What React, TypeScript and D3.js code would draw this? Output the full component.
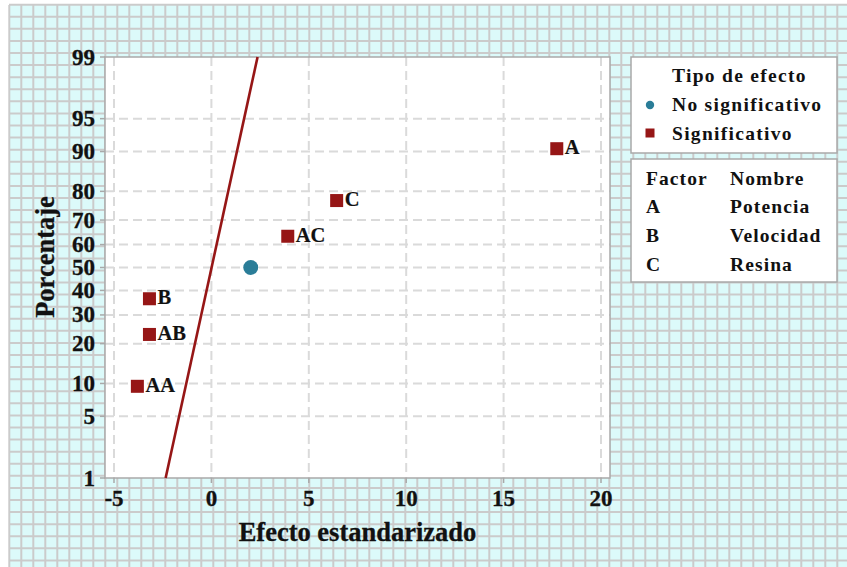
import * as d3 from 'd3';

// Normal probability plot of standardized effects
const termLabels = ['AA', 'AB', 'B', '', 'AC', 'C', 'A'];
const effectValues = [-3.8, -3.18, -3.18, 2.02, 3.92, 6.43, 17.73];
const percentValues = [9.46, 22.97, 36.49, 50, 63.51, 77.03, 90.54];
const isSignificant = [true, true, true, false, true, true, true];

// reference line (percent -> effect)
const linePercents = [1, 99];
const lineEffects = [-2.35, 2.37];

const xTicks = [-5, 0, 5, 10, 15, 20];
const yTicks = [1, 5, 10, 20, 30, 40, 50, 60, 70, 80, 90, 95, 99];

const legendTitle = 'Tipo de efecto';
const legendItems = ['No significativo', 'Significativo'];
const factorHeader = ['Factor', 'Nombre'];
const factorCodes = ['A', 'B', 'C'];
const factorNames = ['Potencia', 'Velocidad', 'Resina'];

const W = 847;
const H = 567;
const PLOT = { left: 105, top: 57, right: 610, bottom: 478 };
const RED = '#961616';
const TEAL = '#2a7d98';
const FONT = '"Liberation Serif", "Times New Roman", serif';

// inverse normal CDF (Acklam)
const probit = (p: number) => {
  const a = [-39.6968302866538, 220.946098424521, -275.928510446969, 138.357751867269, -30.6647980661472, 2.50662827745924];
  const b = [-54.4760987982241, 161.585836858041, -155.698979859887, 66.8013118877197, -13.2806815528857];
  const c = [-0.00778489400243029, -0.322396458041136, -2.40075827716184, -2.54973253934373, 4.37466414146497, 2.93816398269878];
  const d = [0.00778469570904146, 0.32246712907004, 2.445134137143, 3.75440866190742];
  const pl = 0.02425;
  if (p < pl) {
    const q = Math.sqrt(-2 * Math.log(p));
    return (((((c[0] * q + c[1]) * q + c[2]) * q + c[3]) * q + c[4]) * q + c[5]) / ((((d[0] * q + d[1]) * q + d[2]) * q + d[3]) * q + 1);
  }
  if (p > 1 - pl) {
    const q = Math.sqrt(-2 * Math.log(1 - p));
    return -(((((c[0] * q + c[1]) * q + c[2]) * q + c[3]) * q + c[4]) * q + c[5]) / ((((d[0] * q + d[1]) * q + d[2]) * q + d[3]) * q + 1);
  }
  const q = p - 0.5;
  const r = q * q;
  return ((((((a[0] * r + a[1]) * r + a[2]) * r + a[3]) * r + a[4]) * r + a[5]) * q) / (((((b[0] * r + b[1]) * r + b[2]) * r + b[3]) * r + b[4]) * r + 1);
};

const Background = () => {
  // cyan background grid
  const xs = d3.range(9.3, W, 12);
  const ys = d3.range(4.7, H, 12.08);
  return (
    <g>
      <rect x={9} y={5} width={W - 9} height={H - 5} fill="#dcfafa" />
      {xs.map((x, i) => (
        <line key={'vx' + i} x1={x} x2={x} y1={5} y2={H} stroke="#cbcbcb" strokeWidth={2} />
      ))}
      {ys.map((y, i) => (
        <line key={'hy' + i} x1={9} x2={W} y1={y} y2={y} stroke="#cbcbcb" strokeWidth={2} />
      ))}
    </g>
  );
};

export default function App() {
  const xScale = d3.scaleLinear().domain([-5.462, 20.462]).range([PLOT.left, PLOT.right]);
  const zScale = d3
    .scaleLinear()
    .domain([probit(0.01), probit(0.99)])
    .range([PLOT.bottom, PLOT.top]);
  const yScale = (pct: number) => zScale(probit(pct / 100));

  const line = d3
    .line<number>()
    .x((_, i) => xScale(lineEffects[i]))
    .y((p) => yScale(p));

  const plotW = PLOT.right - PLOT.left;
  const plotH = PLOT.bottom - PLOT.top;

  return (
    <svg width={W} height={H} style={{ position: 'absolute', left: 0, top: 0 }} fontFamily={FONT} fontWeight="bold">
      <rect width={W} height={H} fill="#fff" />
      <Background />

      {/* plot area */}
      <rect x={PLOT.left} y={PLOT.top} width={plotW} height={plotH} fill="#fff" />
      <g stroke="#dadada" strokeWidth={2} strokeDasharray="9,5">
        {xTicks.map((t) => (
          <line key={'gx' + t} x1={xScale(t)} x2={xScale(t)} y1={PLOT.top} y2={PLOT.bottom} />
        ))}
        {yTicks.slice(1, -1).map((t) => (
          <line key={'gy' + t} x1={PLOT.left} x2={PLOT.right} y1={yScale(t)} y2={yScale(t)} />
        ))}
      </g>
      <rect x={PLOT.left} y={PLOT.top} width={plotW} height={plotH} fill="none" stroke="#a9a9a9" strokeWidth={1.5} />

      {/* ticks */}
      <g stroke="#a9a9a9" strokeWidth={1.5}>
        {yTicks.map((t) => (
          <line key={'ty' + t} x1={PLOT.left - 5} x2={PLOT.left} y1={yScale(t)} y2={yScale(t)} />
        ))}
        {xTicks.map((t) => (
          <line key={'tx' + t} x1={xScale(t)} x2={xScale(t)} y1={PLOT.bottom} y2={PLOT.bottom + 5} />
        ))}
      </g>
      <g fontSize={23} fill="#111" stroke="#111" strokeWidth={0.3}>
        {yTicks.map((t) => (
          <text key={'ly' + t} x={95} y={yScale(t) + 7.5} textAnchor="end">
            {t}
          </text>
        ))}
        {xTicks.map((t) => (
          <text key={'lx' + t} x={xScale(t)} y={506} textAnchor="middle">
            {t}
          </text>
        ))}
      </g>

      {/* reference line */}
      <path d={line(linePercents) ?? ''} fill="none" stroke={RED} strokeWidth={2.6} />

      {/* points */}
      {effectValues.map((v, i) => {
        const cx = xScale(v);
        const cy = yScale(percentValues[i]);
        return (
          <g key={'pt' + i}>
            {isSignificant[i] ? (
              <rect x={cx - 6.5} y={cy - 6.5} width={13} height={13} fill={RED} />
            ) : (
              <circle cx={cx} cy={cy} r={7.5} fill={TEAL} />
            )}
            {termLabels[i] && (
              <text x={cx + 8} y={cy + 5.5} fontSize={20.5} fill="#111" stroke="#111" strokeWidth={0.2}>
                {termLabels[i]}
              </text>
            )}
          </g>
        );
      })}

      {/* axis titles */}
      <g fontSize={26.5} fill="#111" stroke="#111" strokeWidth={0.3}>
        <text x={(PLOT.left + PLOT.right) / 2} y={541} textAnchor="middle">
          Efecto estandarizado
        </text>
        <text transform={`translate(54,257) rotate(-90)`} textAnchor="middle">
          Porcentaje
        </text>
      </g>

      {/* legend: effect type */}
      <rect x={631} y={57} width={206} height={96} fill="#fff" stroke="#a9a9a9" strokeWidth={1.5} />
      <g fontSize={19.5} fill="#111" letterSpacing={1.3}>
        <text x={672} y={82}>{legendTitle}</text>
        <circle cx={650} cy={105} r={4.2} fill={TEAL} />
        <text x={672} y={111}>{legendItems[0]}</text>
        <rect x={645.5} y={128.5} width={9} height={9} fill={RED} />
        <text x={672} y={140}>{legendItems[1]}</text>
      </g>

      {/* legend: factors */}
      <rect x={631} y={159} width={206} height={123} fill="#fff" stroke="#a9a9a9" strokeWidth={1.5} />
      <g fontSize={19.5} fill="#111" letterSpacing={1.1}>
        <text x={646} y={185}>{factorHeader[0]}</text>
        <text x={730} y={185}>{factorHeader[1]}</text>
        {factorCodes.map((c, i) => (
          <g key={'f' + c}>
            <text x={646} y={213 + i * 28.8}>{c}</text>
            <text x={730} y={213 + i * 28.8}>{factorNames[i]}</text>
          </g>
        ))}
      </g>
    </svg>
  );
}
